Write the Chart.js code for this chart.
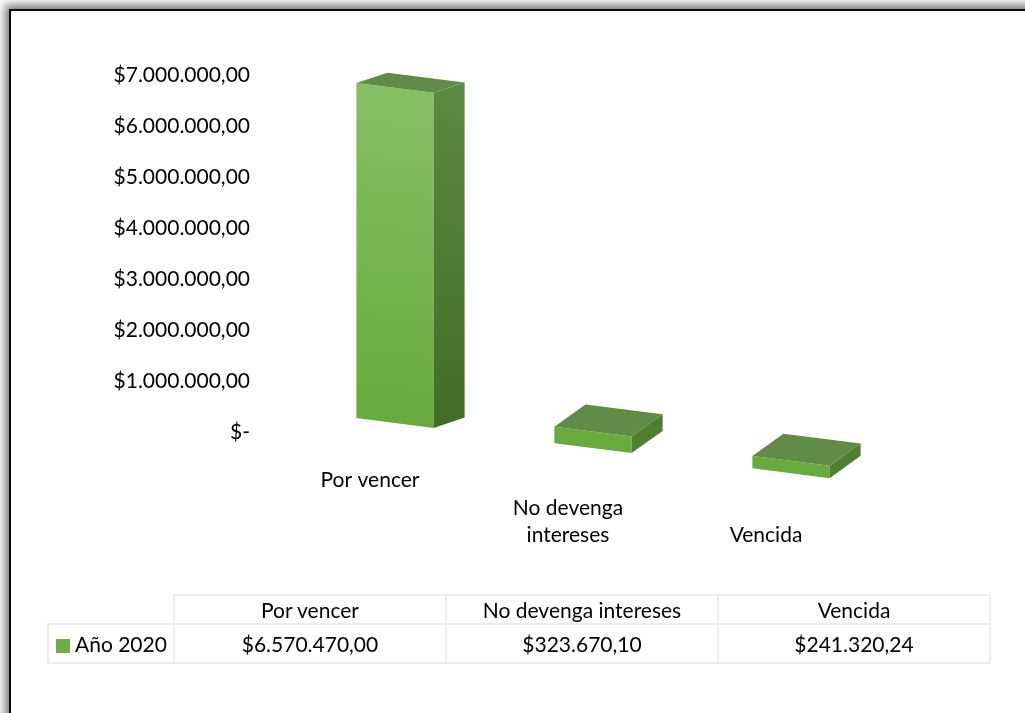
<!DOCTYPE html>
<html><head><meta charset="utf-8">
<script src="https://cdn.jsdelivr.net/npm/chart.js@4/dist/chart.umd.min.js"></script>
<style>
html,body{margin:0;padding:0;background:#fff;overflow:hidden;width:1025px;height:713px;}
#frame{position:absolute;left:9px;top:9px;width:1100px;height:800px;border:2px solid #0d0d0d;box-shadow:0 0 9px 4px rgba(0,0,0,0.55);background:#fff;}
#wrap{position:absolute;left:0;top:0;width:1025px;height:713px;}
table{position:absolute;left:47px;top:594px;border-collapse:collapse;font-family:Lato,sans-serif;font-size:21px;color:#000;}
td{border:2px solid #ececec;text-align:center;padding:0;}
td.blank{border-top:none;border-left:none;}
td.key{text-align:left;padding-left:7px;}
.sw{display:inline-block;width:14px;height:14px;background:#70ad47;margin-right:5px;vertical-align:-1px;}
</style></head>
<body>
<div id="frame"></div>
<div id="wrap"><canvas id="c" width="1025" height="713"></canvas></div>
<table id="tbl"></table>
<script>
const categories = ["Por vencer", "No devenga intereses", "Vencida"];
const axisLabels = [["Por vencer"], ["", "No devenga", "intereses"], ["", "", "Vencida"]];
const seriesName = "Año 2020";
const values = [6570470.00, 323670.10, 241320.24];
const yTicks = [0, 1000000, 2000000, 3000000, 4000000, 5000000, 6000000, 7000000];

function fmt(v){
  const parts = v.toFixed(2).split('.');
  return '$' + parts[0].replace(/\B(?=(\d{3})+(?!\d))/g, '.') + ',' + parts[1];
}

// data table
const tbl = document.getElementById('tbl');
let h = '<tr style="height:29px"><td class="blank" style="width:125px"></td>';
categories.forEach(c => { h += '<td style="width:270px">' + c + '</td>'; });
h += '</tr><tr style="height:39px"><td class="key"><span class="sw"></span>' + seriesName + '</td>';
values.forEach(v => { h += '<td>' + fmt(v) + '</td>'; });
h += '</tr>';
tbl.innerHTML = h;

const SHEAR = 0.127, PIVOT_X = 441, SHIFT_X = 25, DEPTH_X = 31;
const bar3d = {
  id: 'bar3d',
  beforeDatasetsDraw(chart){
    const c = chart.ctx; c.save();
    c.transform(1, SHEAR, 0, 1, SHIFT_X, -SHEAR * PIVOT_X);
  },
  afterDatasetsDraw(chart){
    const c = chart.ctx;
    chart.getDatasetMeta(0).data.forEach(el => {
      const p = el.getProps(['x','y','base','width'], true);
      const xl = p.x - p.width/2, xr = p.x + p.width/2;
      const dx = DEPTH_X, dy = -14 - (p.y - 90) * 13 / 350;
      // top face
      c.beginPath();
      c.moveTo(xl, p.y); c.lineTo(xr, p.y); c.lineTo(xr+dx, p.y+dy); c.lineTo(xl+dx, p.y+dy); c.closePath();
      c.fillStyle = '#608c47'; c.fill();
      // side face
      const g = c.createLinearGradient(0, p.y, 0, p.base);
      g.addColorStop(0, '#5a8a3f'); g.addColorStop(1, '#3f6d26');
      c.beginPath();
      c.moveTo(xr, p.y); c.lineTo(xr+dx, p.y+dy); c.lineTo(xr+dx, p.base+dy); c.lineTo(xr, p.base); c.closePath();
      c.fillStyle = (p.base - p.y) < 40 ? '#4c7f30' : g; c.fill();
    });
    c.restore();
  }
};

new Chart(document.getElementById('c'), {
  type: 'bar',
  data: {
    labels: axisLabels,
    datasets: [{
      label: seriesName,
      data: values,
      clip: false,
      borderWidth: 0,
      backgroundColor(ctx){
        const ca = ctx.chart.chartArea;
        if (!ca) return '#70ad47';
        const g = ctx.chart.ctx.createLinearGradient(0, ca.top, 0, ca.bottom);
        g.addColorStop(0, '#89c066'); g.addColorStop(1, '#68aa3d');
        return g;
      },
      barPercentage: 0.39,
      categoryPercentage: 1
    }]
  },
  options: {
    responsive: false,
    animation: false,
    layout: { padding: { top: 75, left: 0, right: 160, bottom: 161 } },
    plugins: { legend: { display: false }, tooltip: { enabled: false } },
    scales: {
      x: {
        grid: { display: false, drawTicks: false },
        border: { display: false },
        ticks: { color: '#000', padding: 35, maxRotation: 0, autoSkip: false,
          font: { family: 'Lato', size: 21, lineHeight: 1.3 } },
        afterFit(s){ s.height = 120; }
      },
      y: {
        min: 0, max: 7000000,
        afterBuildTicks(s){ s.ticks = yTicks.map(v => ({ value: v })); },
        grid: { display: false, drawTicks: false },
        border: { display: false },
        ticks: { color: '#000', padding: 21,
          font: { family: 'Lato', size: 21 },
          callback(v){ return v === 0 ? '$-' : fmt(v); } },
        afterFit(s){ s.width = 271; }
      }
    }
  },
  plugins: [bar3d]
});
</script>
</body></html>
